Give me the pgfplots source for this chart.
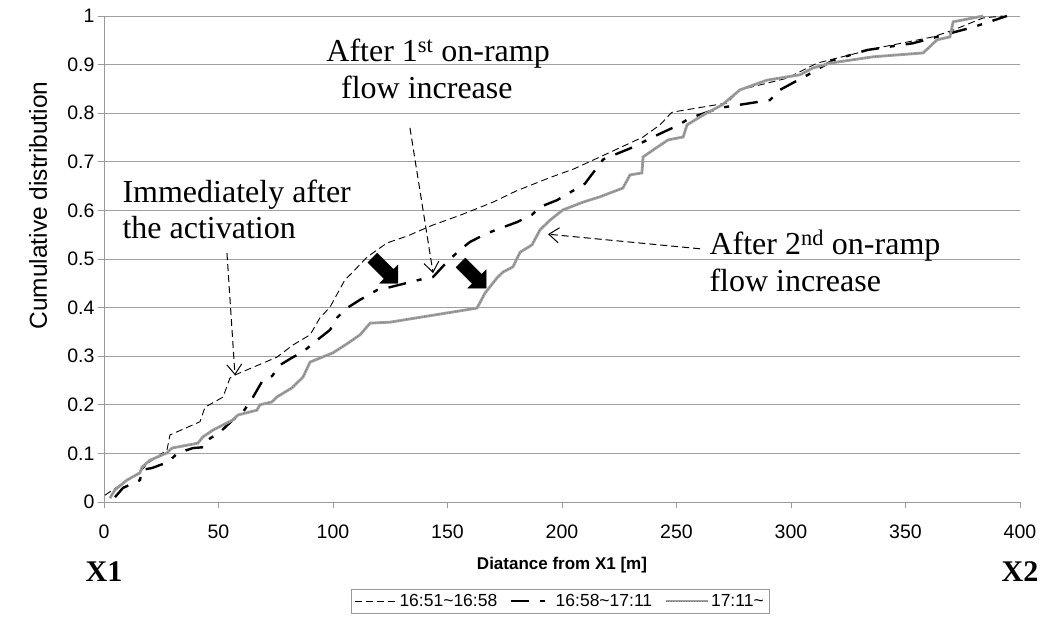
\documentclass[border=0pt]{standalone}
\usepackage{fontspec}
\setmainfont{Liberation Sans}
\newfontfamily\tnr{Liberation Serif}
\usepackage{pgfplots}
\pgfplotsset{compat=1.18}
\usetikzlibrary{arrows.meta,shapes.arrows}

\begin{document}
\begin{tikzpicture}
\begin{axis}[
  scale only axis, width=916pt, height=486pt,
  xmin=0, xmax=400, ymin=0, ymax=1,
  axis x line*=bottom, axis y line*=left,
  axis line style={draw=gray!80, line width=0.8pt, -},
  xtick={0,50,...,400},
  ytick={0,0.1,0.2,0.3,0.4,0.5,0.6,0.7,0.8,0.9,1},
  tick align=outside, major tick length=6pt,
  tick style={draw=gray!80, line width=0.8pt},
  ymajorgrids, grid style={draw=gray!75, line width=0.8pt},
  ticklabel style={font=\fontsize{19.5}{22}\selectfont},
  xticklabel style={yshift=-13pt},
  /pgf/number format/assume math mode=true,
  xlabel={Diatance from X1 [m]},
  xlabel style={font=\bfseries\fontsize{17}{20}\selectfont, at={(axis description cs:0.5,-0.1296)}, anchor=center},
  ylabel={Cumulative distribution},
  ylabel style={font=\fontsize{24.5}{28}\selectfont, at={(axis description cs:-0.072,0.61)}, anchor=center},
  clip=false,
  legend columns=3,
  legend style={at={(axis description cs:0.498,-0.179)}, anchor=north, draw=gray!80,
    font=\fontsize{17.5}{20}\selectfont, inner sep=3pt,
    /tikz/every even column/.append style={column sep=10pt}},
  legend cell align=left,
  legend image code/.code={\draw[#1] (0pt,0pt) -- (42pt,0pt);},
]

% 16:51~16:58
\addplot[mark=none, black, line width=0.9pt, dash pattern=on 7pt off 4pt] coordinates {
  (0.4,0.014)(8.3,0.039)(15.7,0.062)(19.2,0.080)(27.5,0.107)(28.8,0.138)
  (41.9,0.165)(44.1,0.195)(52.0,0.216)(55.0,0.255)(57.5,0.262)(75.5,0.298)
  (82.5,0.323)(90.0,0.344)(94.3,0.379)(98.7,0.401)(105.2,0.457)(108,0.470)
  (114.9,0.504)(123.6,0.533)(132.3,0.547)(143.7,0.570)(155.5,0.590)(169.9,0.617)
  (180,0.640)(195,0.668)(205,0.685)(216.6,0.710)(235.4,0.751)(242.8,0.776)
  (248.0,0.802)(272.1,0.821)(277.7,0.848)(298.3,0.872)(311.4,0.903)(337.6,0.934)
  (362.0,0.957)(370.8,0.971)(383.9,0.996)(392.6,1.0)
};
\addlegendentry{16:51\textasciitilde16:58}

% 16:58~17:11
\addplot[mark=none, black, line width=2.4pt, dash pattern=on 18pt off 11pt on 5pt off 11pt] coordinates {
  (4.8,0.010)(8.3,0.029)(15.7,0.045)(16.6,0.066)(21.0,0.070)(27.9,0.082)
  (32.3,0.101)(38.9,0.111)(44.1,0.113)(45.4,0.128)(50.7,0.144)(56.3,0.169)
  (60.7,0.185)(65.1,0.216)(69.4,0.251)(73.4,0.259)(76.9,0.282)(82.5,0.298)
  (86.9,0.309)(93.0,0.333)(98.7,0.354)(101.7,0.379)(106.1,0.399)(111.8,0.416)
  (119.2,0.436)(124.9,0.442)(139.3,0.459)(143.7,0.463)(149.8,0.494)(155.5,0.519)
  (159.8,0.535)(167.3,0.553)(180.4,0.576)(186.9,0.591)(190.4,0.607)(197.8,0.621)
  (210,0.655)(218,0.705)(231.0,0.730)(239.7,0.751)(250.2,0.774)(255.9,0.790)
  (269.0,0.811)(290.8,0.827)(295.2,0.848)(307.4,0.879)(318.4,0.909)(333.2,0.930)
  (353.3,0.944)(362.0,0.955)(379.5,0.977)(394.3,1.0)
};
\addlegendentry{16:58\textasciitilde17:11}

% 17:11~
\addplot[mark=none, color={rgb,255:red,160;green,160;blue,160}, line width=2.8pt,
  postaction={draw=black!55, line width=0.7pt, dash pattern=on 1pt off 1.6pt}] coordinates {
  (2.6,0.008)(4.8,0.025)(10.0,0.045)(15.7,0.060)(16.6,0.072)(20.1,0.086)
  (27.5,0.101)(29.7,0.111)(41.0,0.121)(43.2,0.134)(47.6,0.148)(56.3,0.169)
  (58.5,0.179)(66.8,0.189)(68.1,0.200)(73.4,0.206)(75.5,0.216)(82.1,0.235)
  (86.9,0.257)(90.0,0.288)(100.0,0.307)(106.6,0.327)(111.8,0.344)(116.2,0.368)
  (124.9,0.370)(136.7,0.379)(162.9,0.399)(166.4,0.430)(171.6,0.461)(174.2,0.473)
  (178.6,0.484)(181.7,0.514)(186.9,0.529)(190.4,0.560)(194.8,0.580)(200.4,0.601)
  (209.2,0.617)(216.6,0.628)(226.6,0.646)(229.7,0.673)(234.9,0.677)(235.4,0.710)
  (239.7,0.724)(246.3,0.745)(252.9,0.751)(254.6,0.776)(261.6,0.796)(269.9,0.817)
  (277.7,0.848)(289.5,0.868)(303.9,0.879)(309.6,0.893)(317.0,0.903)(335.8,0.916)
  (357.7,0.924)(363.8,0.951)(369.4,0.957)(370.8,0.988)(383.9,1.0)
};
\addlegendentry{17:11\textasciitilde}

% annotations
\node[anchor=base west, font=\tnr\fontsize{32}{36}\selectfont] at (axis cs:6.55,0.617) {Immediately after};
\node[anchor=base west, font=\tnr\fontsize{32}{36}\selectfont] at (axis cs:6.55,0.543) {the activation};
\draw[black, line width=1pt, dash pattern=on 7pt off 4pt, -{Straight Barb[length=10pt,width=15pt]}]
  (axis cs:53.7,0.512) -- (axis cs:57.2,0.261);

\node[anchor=base, font=\tnr\fontsize{32}{36}\selectfont] at (axis cs:145.9,0.907) {After 1\textsuperscript{st} on-ramp};
\node[anchor=base, font=\tnr\fontsize{32}{36}\selectfont] at (axis cs:141.0,0.831) {flow increase};
\draw[black, line width=1pt, dash pattern=on 7pt off 4pt, -{Straight Barb[length=10pt,width=15pt]}]
  (axis cs:133.6,0.770) -- (axis cs:143.7,0.471);

\node[anchor=base west, font=\tnr\fontsize{32}{36}\selectfont] at (axis cs:262.9,0.510) {After 2\textsuperscript{nd} on-ramp};
\node[anchor=base west, font=\tnr\fontsize{32}{36}\selectfont] at (axis cs:262.9,0.434) {flow increase};
\draw[black, line width=1pt, dash pattern=on 7pt off 4pt, -{Straight Barb[length=10pt,width=15pt]}]
  (axis cs:260.3,0.521) -- (axis cs:193.9,0.551);

\node[single arrow, fill=black, draw=black, minimum height=36pt, minimum width=26pt,
  single arrow head extend=6pt, inner sep=6pt, rotate=-45] at (axis cs:121.8,0.481) {};
\node[single arrow, fill=black, draw=black, minimum height=36pt, minimum width=26pt,
  single arrow head extend=6pt, inner sep=6pt, rotate=-45] at (axis cs:160.3,0.471) {};

\node[font=\tnr\bfseries\fontsize{30}{36}\selectfont] at (axis cs:0,-0.144) {X1};
\node[font=\tnr\bfseries\fontsize{30}{36}\selectfont] at (axis cs:400,-0.144) {X2};
\end{axis}
\pgfresetboundingbox
\path[use as bounding box] (current axis.south west) ++(-104pt,-115pt) rectangle ++(1049pt,617pt);
\end{tikzpicture}
\end{document}
